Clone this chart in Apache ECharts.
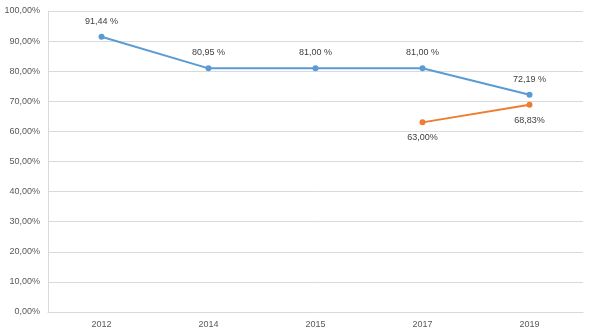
<!DOCTYPE html>
<html><head><meta charset="utf-8">
<script src="https://cdn.jsdelivr.net/npm/echarts@6/dist/echarts.min.js"></script>
<style>html,body{margin:0;padding:0;background:#fff}#c{width:595px;height:336px}</style>
</head><body><div id="c"></div>
<script>
const categories = ['2012','2014','2015','2017','2019'];
const seriesA = [91.44, 80.95, 81.00, 81.00, 72.19];
const seriesALabels = ['91,44 %','80,95 %','81,00 %','81,00 %','72,19 %'];
const seriesB = [null, null, null, 63.00, 68.83];
const seriesBLabels = ['', '', '', '63,00%', '68,83%'];
const yTicks = [0,10,20,30,40,50,60,70,80,90,100];

const font = 'Liberation Sans';
const chart = echarts.init(document.getElementById('c'));
chart.setOption({
  animation: false,
  grid: {left: 48, right: 12, top: 11, bottom: 24},
  xAxis: {
    type: 'category', data: categories, boundaryGap: true,
    axisLine: {lineStyle: {color: '#d9d9d9'}},
    axisTick: {show: false},
    axisLabel: {color: '#595959', fontSize: 9, fontFamily: font, margin: 8}
  },
  yAxis: {
    type: 'value', min: 0, max: 100, interval: 10,
    axisLine: {show: true, lineStyle: {color: '#d9d9d9'}},
    axisTick: {show: false},
    splitLine: {lineStyle: {color: '#d9d9d9'}},
    axisLabel: {color: '#595959', fontSize: 9, fontFamily: font, margin: 8,
      formatter: v => v.toFixed(2).replace('.', ',') + '%'}
  },
  series: [
    {type: 'line', data: seriesA, color: '#5B9BD5', symbol: 'circle', symbolSize: 6,
     lineStyle: {width: 2},
     label: {show: true, position: 'top', distance: 8, color: '#404040', fontSize: 9, fontFamily: font,
       formatter: p => seriesALabels[p.dataIndex]}},
    {type: 'line', data: seriesB, color: '#ED7D31', symbol: 'circle', symbolSize: 6,
     lineStyle: {width: 2}, connectNulls: false,
     label: {show: true, position: 'bottom', distance: 8, color: '#404040', fontSize: 9, fontFamily: font,
       formatter: p => seriesBLabels[p.dataIndex]}}
  ]
});
</script></body></html>
